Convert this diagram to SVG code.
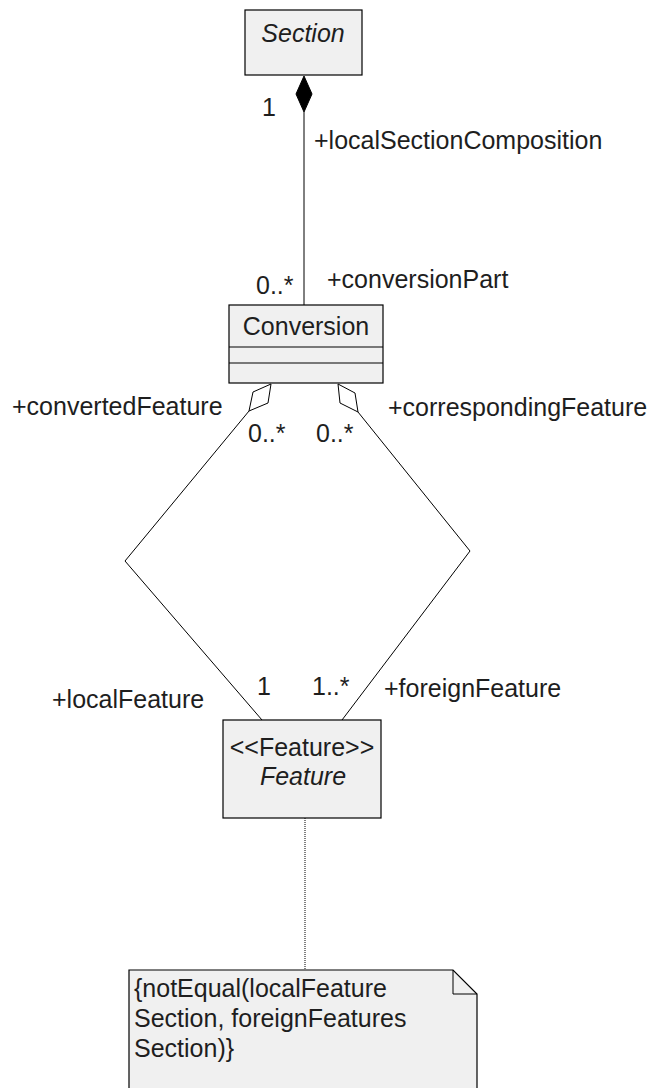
<svg xmlns="http://www.w3.org/2000/svg" width="656" height="1088" viewBox="0 0 656 1088">
<style>
.box{fill:#f0f0f0;stroke:#000;stroke-width:1.2}
.ln{fill:none;stroke:#000;stroke-width:1}
text{font-family:"Liberation Sans",Arial,sans-serif;font-size:25px;fill:#1e1e1e}
.it{font-style:italic}
.mid{text-anchor:middle}
</style>
<rect width="656" height="1088" fill="#fff"/>
<g id="connectors">
<line class="ln" x1="304" y1="112" x2="304" y2="305"/>
<polygon points="304,76 312,94 304,112 296,94" fill="#000" stroke="#000"/>
<polyline class="ln" points="249,411 125,561 262,720"/>
<polygon class="ln" points="271,384 253,392 249,411 268,403" fill="#fff"/>
<polyline class="ln" points="358,412 470,551 342,720"/>
<polygon class="ln" points="338,384 340,403 358,412 355,393" fill="#fff"/>
<line class="ln" x1="305" y1="818" x2="305" y2="970" stroke-dasharray="1,1"/>
<text x="262" y="116">1</text>
<text x="314" y="149">+localSectionComposition</text>
<text x="256" y="294">0..*</text>
<text x="327" y="288">+conversionPart</text>
<text x="12" y="415">+convertedFeature</text>
<text x="248" y="442">0..*</text>
<text x="316" y="442">0..*</text>
<text x="388" y="416">+correspondingFeature</text>
<text x="52" y="708">+localFeature</text>
<text x="257" y="695">1</text>
<text x="312" y="695">1..*</text>
<text x="384" y="697">+foreignFeature</text>
</g>
<g id="section">
<rect class="box" x="245" y="10" width="117" height="65"/>
<text class="it mid" x="303" y="42">Section</text>
</g>
<g id="conversion">
<rect class="box" x="229" y="305" width="154" height="78"/>
<line class="ln" x1="229" y1="347" x2="383" y2="347"/>
<line class="ln" x1="229" y1="363" x2="383" y2="363"/>
<text class="mid" x="306" y="335">Conversion</text>
</g>
<g id="feature">
<rect class="box" x="223" y="720" width="158" height="98"/>
<text class="mid" x="302" y="756">&lt;&lt;Feature&gt;&gt;</text>
<text class="it mid" x="303" y="785">Feature</text>
</g>
<g id="note">
<path class="box" d="M129,970 H453 L477,994 V1100 H129 Z"/>
<path class="ln" d="M453,970 V994 H477"/>
<text x="134" y="997">{notEqual(localFeature</text>
<text x="134" y="1027">Section, foreignFeatures</text>
<text x="134" y="1057">Section)}</text>
</g>
</svg>
